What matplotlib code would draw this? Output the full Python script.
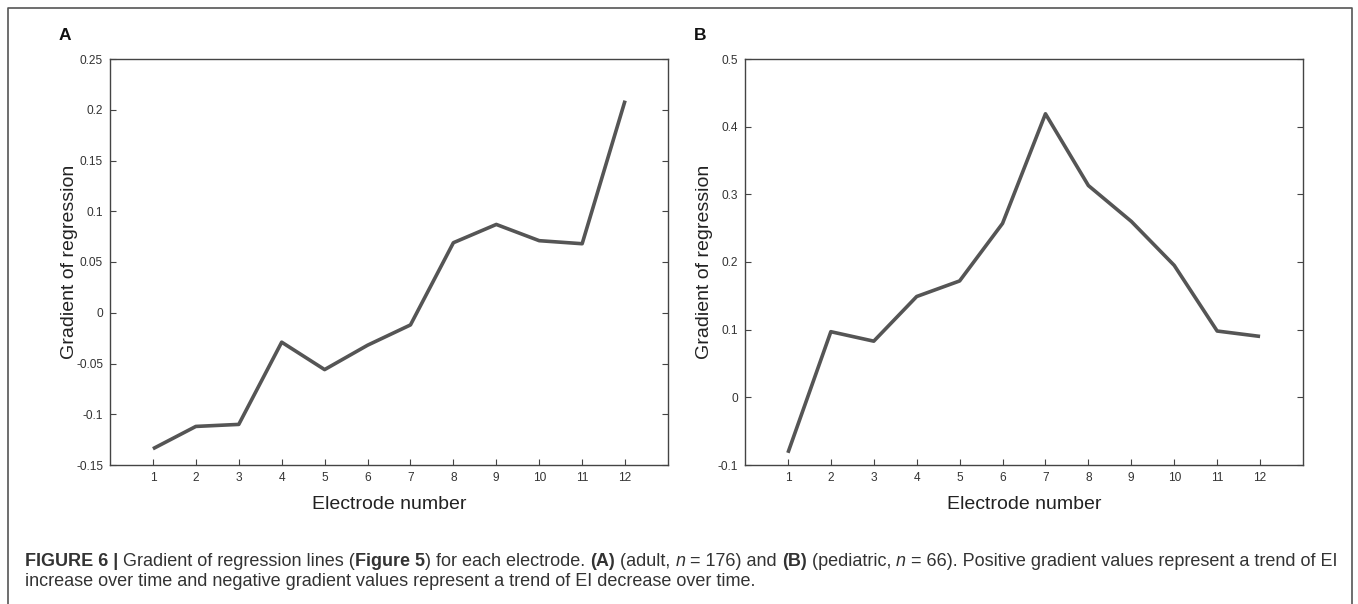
import matplotlib
matplotlib.use("Agg")
import matplotlib.pyplot as plt
from matplotlib.lines import Line2D
from matplotlib.transforms import IdentityTransform

plt.rcParams['font.family'] = ['Liberation Sans', 'DejaVu Sans']

# gradient of the regression line per electrode
electrodes = list(range(1, 13))
grad_adult = [-0.134, -0.112, -0.110, -0.029, -0.056, -0.032,
              -0.012, 0.069, 0.087, 0.071, 0.068, 0.209]
grad_pediatric = [-0.082, 0.097, 0.083, 0.149, 0.172, 0.257,
                  0.419, 0.313, 0.260, 0.195, 0.098, 0.090]

ticks_adult = [-0.15, -0.1, -0.05, 0, 0.05, 0.1, 0.15, 0.2, 0.25]
ticklabels_adult = ['-0.15', '-0.1', '-0.05', '0', '0.05', '0.1', '0.15', '0.2', '0.25']
ticks_pediatric = [-0.1, 0, 0.1, 0.2, 0.3, 0.4, 0.5]
ticklabels_pediatric = ['-0.1', '0', '0.1', '0.2', '0.3', '0.4', '0.5']

W, H = 1358, 604
fig = plt.figure(figsize=(W / 100, H / 100), dpi=100)

LINE = '#555555'
AXC = '#444444'
TXT = '#333333'


def panel(left_px, letter, values, yticks, yticklabels):
    ax = fig.add_axes([left_px / W, 1 - 465 / H, 558 / W, 406 / H])
    ax.plot(electrodes, values, color=LINE, lw=2.6, solid_capstyle='butt')
    ax.set_xlim(0, 13)
    ax.set_ylim(yticks[0], yticks[-1])
    ax.set_xticks(electrodes)
    ax.set_yticks(yticks)
    ax.set_yticklabels(yticklabels)
    ax.tick_params(direction='in', length=4, width=0.8, color=AXC,
                   labelsize=8.6, labelcolor=TXT, right=True, top=False, pad=5)
    for s in ax.spines.values():
        s.set_color(AXC)
        s.set_linewidth(1.0)
    ax.set_xlabel('Electrode number', fontsize=14, color='#222222')
    ax.set_ylabel('Gradient of regression', fontsize=14, color='#222222')
    ax.xaxis.set_label_coords(0.5, -0.076)
    ax.yaxis.set_label_coords(-0.058, 0.5)
    fig.text((left_px - 45) / W, 1 - 36 / H, letter, fontsize=12.5,
             fontweight='bold', ha='center', va='center', color='#111111')
    return ax


panel(110, 'A', grad_adult, ticks_adult, ticklabels_adult)
panel(745, 'B', grad_pediatric, ticks_pediatric, ticklabels_pediatric)

# frame around the whole figure
fig.add_artist(Line2D([8 / W, 8 / W, 1352 / W, 1352 / W],
                      [-0.01, 1 - 8 / H, 1 - 8 / H, -0.01],
                      transform=fig.transFigure, color='#555555', lw=1.2))

# caption with mixed bold / italic runs
renderer = fig.canvas.get_renderer()
CAP_SIZE = 12.95


def text_width(s, **kw):
    probe = fig.text(0, 0, 'x' + s + 'x', fontsize=CAP_SIZE, transform=IdentityTransform(), **kw)
    w = probe.get_window_extent(renderer).width
    probe.remove()
    probe = fig.text(0, 0, 'xx', fontsize=CAP_SIZE, transform=IdentityTransform(), **kw)
    w -= probe.get_window_extent(renderer).width
    probe.remove()
    return w


def caption_line(x, y, runs):
    for s, weight, style in runs:
        fig.text(x, y, s, fontsize=CAP_SIZE, fontweight=weight, fontstyle=style,
                 color=TXT, transform=IdentityTransform(), va='baseline')
        x += text_width(s, fontweight=weight, fontstyle=style)


N, B, I = 'normal', 'bold', 'italic'
caption_line(25, H - 566, [
    ('FIGURE 6 |', B, N), (' Gradient of regression lines (', N, N), ('Figure 5', B, N),
    (') for each electrode. ', N, N), ('(A)', B, N), (' (adult, ', N, N), ('n', N, I),
    (' = 176) and ', N, N), ('(B)', B, N), (' (pediatric, ', N, N), ('n', N, I),
    (' = 66). Positive gradient values represent a trend of EI', N, N),
])
caption_line(25, H - 586, [
    ('increase over time and negative gradient values represent a trend of EI decrease over time.', N, N),
])

fig.savefig('out.png', dpi=100)
